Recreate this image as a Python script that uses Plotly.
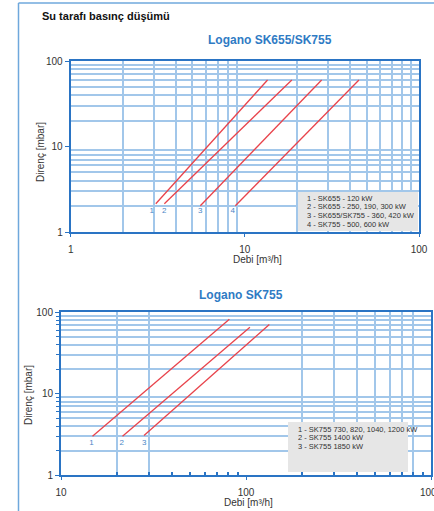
import plotly.graph_objects as go

W, H = 434, 511

# ---------------- data ----------------
top_names = ["1", "2", "3", "4"]
top_q_start = [3.08, 3.45, 5.55, 8.82]
top_q_end = [13.5, 18.6, 27.6, 45.2]
top_dp_start = [2.14, 2.14, 2.03, 2.03]
top_dp_end = [60, 60, 60, 60]
top_label_q = [2.92, 3.45, 5.55, 8.51]
top_label_dp = [1.76, 1.76, 1.76, 1.76]
top_legend = ["1 - SK655 - 120 kW", "2 - SK655 - 250, 190, 300 kW",
              "3 - SK655/SK755 - 360, 420 kW", "4 - SK755 - 500, 600 kW"]

bot_names = ["1", "2", "3"]
bot_q_start = [14.8, 21.5, 28.1]
bot_q_end = [81.3, 105, 133.7]
bot_dp_start = [3.0, 3.0, 3.05]
bot_dp_end = [82, 65.6, 70.7]
bot_label_q = [14.6, 21.3, 28.2]
bot_label_dp = [2.47, 2.47, 2.47]
bot_legend = ["1 - SK755 730, 820, 1040, 1200 kW", "2 - SK755 1400 kW", "3 - SK755 1850 kW"]

top_x_ticks = [1, 10, 100]
top_x_grid = [2, 3, 4, 5, 6, 7, 8, 9, 20, 30, 40, 50, 60, 70, 80, 90]
top_y_ticks = [1, 10, 100]
top_y_grid = [2, 3, 4, 5, 6, 7, 8, 9, 20, 30, 40, 50, 60, 70, 80, 90]

bot_x_ticks = [10, 100, 1000]
bot_x_minor_ticks = [20, 30, 40, 50, 60, 70, 80, 90, 200, 300, 400, 500, 600, 700, 800, 900]
bot_x_grid = [20, 30, 200, 300, 400, 500, 600, 700, 800]
bot_y_ticks = [1, 10, 100]
bot_y_grid = [2, 3, 4, 5, 6, 7, 8, 9, 20, 30, 40, 50, 60, 70, 80, 90]

# ---------------- style ----------------
RED = "#e8434b"
AXIS = "#2a74c4"
GRID = "#a2c7ea"
LBL = "#4a86c6"
TXT = "#333333"
FONT = "Liberation Sans"


def px(x):
    return x / W


def py(y):
    return 1 - y / H


fig = go.Figure()

for i, n in enumerate(top_names):
    fig.add_trace(go.Scatter(x=[top_q_start[i], top_q_end[i]], y=[top_dp_start[i], top_dp_end[i]],
                             mode="lines", line=dict(color=RED, width=1.3), xaxis="x", yaxis="y",
                             showlegend=False, hoverinfo="skip"))
fig.add_trace(go.Scatter(x=top_label_q, y=top_label_dp, mode="text", text=top_names,
                         textfont=dict(family=FONT, size=8, color=LBL), xaxis="x", yaxis="y",
                         showlegend=False, hoverinfo="skip"))

for i, n in enumerate(bot_names):
    fig.add_trace(go.Scatter(x=[bot_q_start[i], bot_q_end[i]], y=[bot_dp_start[i], bot_dp_end[i]],
                             mode="lines", line=dict(color=RED, width=1.3), xaxis="x2", yaxis="y2",
                             showlegend=False, hoverinfo="skip"))
fig.add_trace(go.Scatter(x=bot_label_q, y=bot_label_dp, mode="text", text=bot_names,
                         textfont=dict(family=FONT, size=8, color=LBL), xaxis="x2", yaxis="y2",
                         showlegend=False, hoverinfo="skip"))


def axis_common():
    return dict(type="log", showline=True, linecolor=AXIS, linewidth=2, mirror=True,
                showgrid=False, zeroline=False, tickfont=dict(family=FONT, size=10, color=TXT),
                tickmode="array", fixedrange=True, automargin=False, ticklabeloverflow="allow")


top_dom_x = [px(70.7), px(419)]
top_dom_y = [py(232), py(61)]
bot_dom_x = [px(61), px(431)]
bot_dom_y = [py(475), py(312.3)]

xa = axis_common()
xa.update(domain=top_dom_x, range=[0, 2], anchor="y", tickvals=top_x_ticks,
          ticktext=[str(v) for v in top_x_ticks], ticks="outside", ticklen=3, tickcolor=AXIS,
          ticklabelstandoff=4,
          minor=dict(tickmode="array", tickvals=top_x_grid, showgrid=True, gridcolor=GRID,
                     gridwidth=2, ticks=""))
ya = axis_common()
ya.update(domain=top_dom_y, range=[0, 2], anchor="x", tickvals=top_y_ticks,
          ticktext=[str(v) for v in top_y_ticks], ticks="outside", ticklen=4, tickcolor=AXIS,
          minor=dict(tickmode="array", tickvals=top_y_grid, showgrid=True, gridcolor=GRID,
                     gridwidth=2, ticks=""))
xb = axis_common()
xb.update(domain=bot_dom_x, range=[1, 3], anchor="y2",
          tickvals=bot_x_ticks, ticktext=[str(v) for v in bot_x_ticks],
          ticks="outside", ticklen=3, tickcolor=AXIS, ticklabelstandoff=4,
          minor=dict(tickmode="array", tickvals=bot_x_minor_ticks, showgrid=False,
                     ticks="inside", ticklen=3, tickcolor=AXIS, tickwidth=1.5))
yb = axis_common()
yb.update(domain=bot_dom_y, range=[0, 2], anchor="x2", tickvals=bot_y_ticks,
          ticktext=[str(v) for v in bot_y_ticks], ticks="outside", ticklen=4, tickcolor=AXIS,
          minor=dict(tickmode="array", tickvals=bot_y_grid, showgrid=True, gridcolor=GRID,
                     gridwidth=2, ticks="outside", ticklen=3, tickcolor=AXIS))

# bottom x grid on an overlay axis so that only selected lines are drawn
xb_grid = dict(type="log", domain=bot_dom_x, range=[1, 3], overlaying="x2", anchor="y2",
               tickmode="array", tickvals=bot_x_grid, showticklabels=False, ticks="",
               showgrid=True, gridcolor=GRID, gridwidth=2, showline=False, zeroline=False,
               fixedrange=True, layer="below traces", automargin=False)
fig.add_trace(go.Scatter(x=[10, 1000], y=[1, 1], mode="markers", marker=dict(opacity=0),
                         xaxis="x3", yaxis="y2", showlegend=False, hoverinfo="skip"))

shapes = [
    # outer frame
    dict(type="line", xref="paper", yref="paper", x0=px(18.5), x1=px(18.5), y0=py(3), y1=py(511),
         line=dict(color="#6fa8dc", width=1.5)),
    dict(type="line", xref="paper", yref="paper", x0=px(18.5), x1=px(434), y0=py(3), y1=py(3),
         line=dict(color="#6fa8dc", width=1.5)),
    # legend boxes
    dict(type="rect", xref="paper", yref="paper", x0=px(298), x1=px(418), y0=py(231), y1=py(192),
         fillcolor="#e6e6e6", line=dict(width=0), layer="above"),
    dict(type="rect", xref="paper", yref="paper", x0=px(288), x1=px(408), y0=py(472), y1=py(422),
         fillcolor="#e6e6e6", line=dict(width=0), layer="above"),
]

ann = []


def txt(x, y, s, size, color=TXT, bold=False, xanchor="left", angle=0):
    ann.append(dict(xref="paper", yref="paper", x=px(x), y=py(y), text=("<b>%s</b>" % s) if bold else s,
                    showarrow=False, xanchor=xanchor, yanchor="middle", textangle=angle,
                    font=dict(family=FONT, size=size, color=color)))


txt(40, 16, "Su tarafı basınç düşümü", 11, color="#111111", bold=True)
txt(270, 40, "Logano SK655/SK755", 12, color="#2f7bc4", bold=True, xanchor="center")
txt(241.5, 295, "Logano SK755", 12, color="#2f7bc4", bold=True, xanchor="center")
txt(40, 152, "Direnç [mbar]", 10, xanchor="center", angle=-90)
txt(28, 395, "Direnç [mbar]", 10, xanchor="center", angle=-90)
txt(257, 259, "Debi [m³/h]", 10, xanchor="center")
txt(248, 502, "Debi [m³/h]", 10, xanchor="center")

for i, s in enumerate(top_legend):
    txt(305, 198 + i * 8.7, s, 7.5)
for i, s in enumerate(bot_legend):
    txt(296, 429 + i * 8.7, s, 7.5)

fig.update_layout(width=W, height=H, margin=dict(l=0, r=0, t=0, b=0, autoexpand=False),
                  paper_bgcolor="white", plot_bgcolor="white",
                  xaxis=xa, yaxis=ya, xaxis2=xb, yaxis2=yb, xaxis3=xb_grid,
                  shapes=shapes, annotations=ann, showlegend=False)

page_fix = (
    "document.documentElement.style.margin='0';document.body.style.margin='0';"
    "document.documentElement.style.overflow='hidden';document.body.style.overflow='hidden';"
)
fig.write_html("out.html", config={"displayModeBar": False}, post_script=page_fix)
